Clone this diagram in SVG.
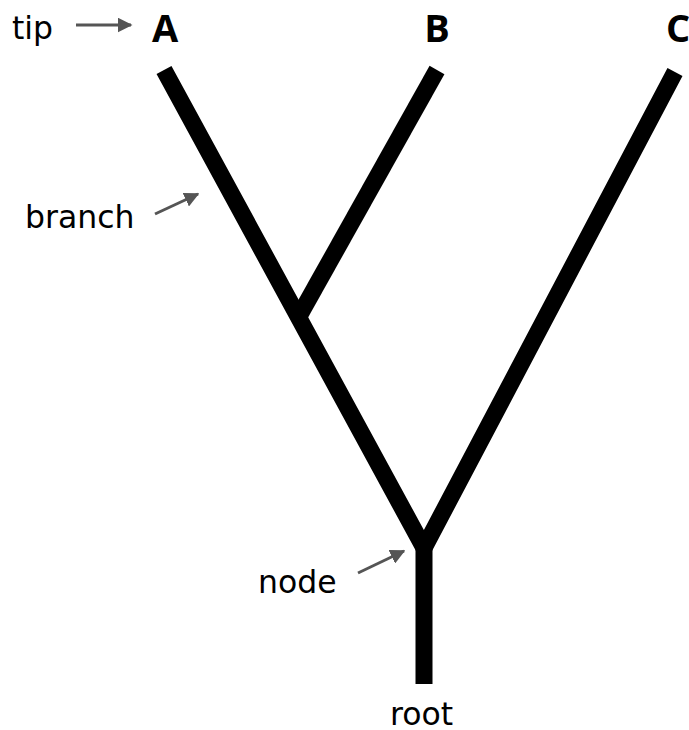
<svg xmlns="http://www.w3.org/2000/svg" width="689" height="730" viewBox="0 0 689 730">
  <style>
    .edge { fill: none; stroke: #000; stroke-width: 17; stroke-linecap: butt; stroke-linejoin: miter; }
    .pointer { fill: none; stroke: #555; stroke-width: 3; }
    .tiplabel { font-family: "Open Sans", "DejaVu Sans", sans-serif; font-weight: bold; font-size: 38px; fill: #000; text-anchor: middle; }
    .note { font-family: "DejaVu Sans", "Open Sans", sans-serif; font-size: 31.5px; fill: #000; }
  </style>
  <defs>
    <marker id="head" viewBox="0 0 10 10" refX="9" refY="5" markerWidth="5" markerHeight="5" orient="auto" markerUnits="strokeWidth">
      <path d="M0,0 L10,5 L0,10 z" fill="#555"/>
    </marker>
  </defs>

  <rect width="689" height="730" fill="#fff"/>

  <!-- tree edges -->
  <g id="edges">
    <path class="edge" d="M164,70 L424,548 L675,72"/>
    <path class="edge" d="M437,70 L298,318"/>
    <path class="edge" d="M424,545 V684"/>
  </g>

  <!-- tip labels -->
  <g id="tip-A"><text class="tiplabel" x="165" y="42">A</text></g>
  <g id="tip-B"><text class="tiplabel" x="437" y="42">B</text></g>
  <g id="tip-C"><text class="tiplabel" x="678" y="42">C</text></g>

  <!-- annotations -->
  <g id="note-tip">
    <text class="note" x="12" y="39">tip</text>
    <line class="pointer" x1="76" y1="25" x2="131" y2="25" marker-end="url(#head)"/>
  </g>
  <g id="note-branch">
    <text class="note" x="25" y="228">branch</text>
    <line class="pointer" x1="155" y1="214" x2="198" y2="194" marker-end="url(#head)"/>
  </g>
  <g id="note-node">
    <text class="note" x="258" y="593">node</text>
    <line class="pointer" x1="358" y1="573" x2="404" y2="551" marker-end="url(#head)"/>
  </g>
  <g id="note-root">
    <text class="note" x="390" y="725">root</text>
  </g>
</svg>
